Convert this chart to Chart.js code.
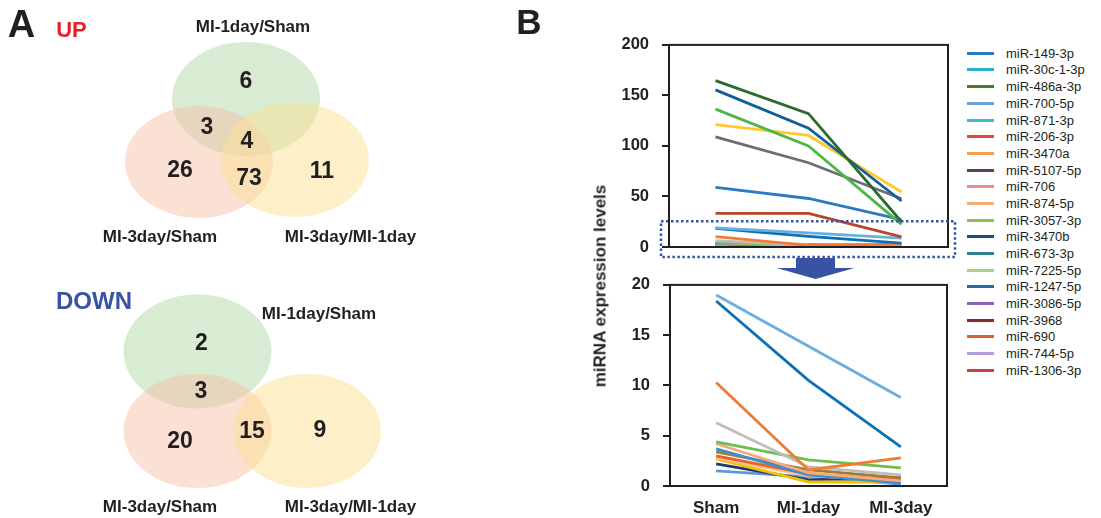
<!DOCTYPE html>
<html><head><meta charset="utf-8">
<script src="https://cdn.jsdelivr.net/npm/chart.js@4.4.0/dist/chart.umd.min.js"></script>
<style>
html,body{margin:0;padding:0;}
body{width:1101px;height:518px;background:#fff;position:relative;overflow:hidden;font-family:"Liberation Sans",Arial,Helvetica,sans-serif;color:#231f20;}
canvas{position:absolute;}
.t{position:absolute;white-space:nowrap;font-weight:bold;line-height:1;transform:translate(-50%,-50%);}
.lg{position:absolute;left:967px;height:16px;display:flex;align-items:center;font-size:13px;line-height:1;white-space:nowrap;transform:translateY(-50%);}
.lg span.sw{display:inline-block;width:27px;height:3px;margin-right:12px;}
</style></head><body>
<canvas id="venn" width="470" height="518" style="left:0;top:0"></canvas>
<canvas id="topChart" width="400" height="263" style="left:560px;top:22px"></canvas>
<canvas id="bottomChart" width="400" height="256" style="left:560px;top:262px"></canvas>
<div id="texts"></div>
<div id="legend"></div>
<script>
// ---------------- DATA ----------------
const categories = ['Sham', 'MI-1day', 'MI-3day'];
const topTicks = [0, 50, 100, 150, 200];
const bottomTicks = [0, 5, 10, 15, 20];

// high-abundance miRNAs (upper panel only)
const highSeries = [
  [164.7, 132.0, 25.0],
  [155.5, 117.6, 45.5],
  [136.4, 100.0, 22.4],
  [121.0, 110.4, 54.4],
  [109.0, 83.4, 47.8],
  [59.0, 48.0, 27.0],
  [33.3, 33.3, 10.0]
];
const highColors = ['#2d6a2d', '#0f5f9c', '#4db848', '#ffc830', '#6d6e71', '#2a7bc4', '#b5472b'];

// low-abundance miRNAs (both panels)
const lowSeries = [
  [19.0, 13.9, 8.8],
  [18.4, 10.5, 3.9],
  [10.3, 1.6, 2.8],
  [6.3, 1.9, 1.1],
  [4.4, 2.6, 1.8],
  [4.2, 1.3, 0.5],
  [3.7, 1.1, 0.3],
  [3.4, 1.6, 0.8],
  [3.0, 1.2, 0.6],
  [2.8, 1.0, 0.5],
  [2.7, 0.4, 0.4],
  [2.2, 0.6, 0.8],
  [1.5, 0.9, 0.2]
];
const lowColors = ['#6aaee0', '#0a70b8', '#f07c34', '#bdbdbd', '#6cbf4e', '#f5a882', '#3a8fd4', '#a47a2c', '#ec5f28', '#f8c090', '#f5c000', '#1f3a6e', '#5b9bd5'];

const legendNames = ['miR-149-3p', 'miR-30c-1-3p', 'miR-486a-3p', 'miR-700-5p', 'miR-871-3p', 'miR-206-3p', 'miR-3470a', 'miR-5107-5p', 'miR-706', 'miR-874-5p', 'miR-3057-3p', 'miR-3470b', 'miR-673-3p', 'miR-7225-5p', 'miR-1247-5p', 'miR-3086-5p', 'miR-3968', 'miR-690', 'miR-744-5p', 'miR-1306-3p'];
const legendColors = ['#2b7bbf', '#26b3d0', '#4a7a2a', '#6a9fd8', '#3bbfd0', '#e04a40', '#f5a050', '#5a3f6e', '#ec8a88', '#f8b07a', '#8dc150', '#1f4e79', '#2a7f8f', '#a9d18e', '#1f6fa8', '#8e62b8', '#8b2a2a', '#e0602a', '#b39ddb', '#c84040'];

// Venn counts
const vennUpCounts = [6, 3, 4, 26, 73, 11];
const vennDownCounts = [2, 3, 20, 15, 9];
const vennSetLabels = ['MI-1day/Sham', 'MI-3day/Sham', 'MI-3day/MI-1day'];

// ---------------- LAYOUT ----------------
const FONT = '"Liberation Sans", Arial, Helvetica, sans-serif';
const INK = '#231f20';
const vennShapes = [
  {cx: 246, cy: 99, rx: 74, ry: 57, color: 'rgba(177,217,169,0.5)'},
  {cx: 199, cy: 162, rx: 74, ry: 56, color: 'rgba(247,193,169,0.5)'},
  {cx: 295, cy: 160, rx: 74, ry: 57, color: 'rgba(251,225,147,0.5)'},
  {cx: 197.5, cy: 351.5, rx: 74, ry: 57, color: 'rgba(177,217,169,0.5)'},
  {cx: 197.5, cy: 431, rx: 74, ry: 57, color: 'rgba(247,193,169,0.5)'},
  {cx: 307, cy: 431, rx: 74, ry: 57, color: 'rgba(251,225,147,0.5)'}
];
const upPos = [[246, 81], [207, 127], [247, 141], [180, 170], [249, 178], [322, 171]];
const downPos = [[201.5, 343], [201, 391], [180, 441], [252, 431], [320, 430]];

const vennPoints = vennUpCounts.map((c, i) => ({x: upPos[i][0], y: upPos[i][1], v: c}))
  .concat(vennDownCounts.map((c, i) => ({x: downPos[i][0], y: downPos[i][1], v: c})));

const vennPlugin = {
  id: 'vennShapes',
  beforeDatasetsDraw(chart) {
    const {ctx, scales: {x, y}} = chart;
    vennShapes.forEach(e => {
      const cx = x.getPixelForValue(e.cx), cy = y.getPixelForValue(e.cy);
      const rx = Math.abs(x.getPixelForValue(e.cx + e.rx) - cx);
      const ry = Math.abs(y.getPixelForValue(e.cy + e.ry) - cy);
      ctx.save();
      ctx.beginPath();
      ctx.ellipse(cx, cy, rx, ry, 0, 0, Math.PI * 2);
      ctx.fillStyle = e.color;
      ctx.fill();
      ctx.restore();
    });
  },
  afterDatasetsDraw(chart) {
    const {ctx} = chart;
    const meta = chart.getDatasetMeta(0);
    const raw = chart.data.datasets[0].data;
    ctx.save();
    ctx.font = 'bold 23px ' + FONT;
    ctx.fillStyle = INK;
    ctx.textAlign = 'center';
    ctx.textBaseline = 'middle';
    meta.data.forEach((pt, i) => ctx.fillText(String(raw[i].v), pt.x, pt.y + 1));
    ctx.restore();
  }
};

new Chart(document.getElementById('venn'), {
  type: 'scatter',
  data: {datasets: [{data: vennPoints, pointRadius: 0, pointHoverRadius: 0}]},
  options: {
    responsive: false, animation: false, devicePixelRatio: 1,
    layout: {padding: 0},
    plugins: {legend: {display: false}, tooltip: {enabled: false}},
    scales: {
      x: {type: 'linear', min: 0, max: 470, display: false},
      y: {type: 'linear', min: 0, max: 518, reverse: true, display: false}
    }
  },
  plugins: [vennPlugin]
});

// ---------------- LINE CHARTS ----------------
const framePlugin = {
  id: 'frame',
  afterDatasetsDraw(chart) {
    const {ctx, chartArea: a} = chart;
    ctx.save();
    ctx.strokeStyle = INK;
    ctx.lineWidth = 2;
    ctx.strokeRect(a.left, a.top, a.right - a.left, a.bottom - a.top);
    ctx.restore();
  }
};
const zoomBoxPlugin = {
  id: 'zoomBox',
  afterDraw(chart) {
    const {ctx, chartArea: a, scales: {y}} = chart;
    const top = y.getPixelForValue(25.5), bot = y.getPixelForValue(-10);
    ctx.save();
    ctx.strokeStyle = '#3953a4';
    ctx.lineWidth = 2.5;
    ctx.setLineDash([2.5, 2.5]);
    ctx.strokeRect(a.left - 8, top, (a.right + 7) - (a.left - 8), bot - top);
    ctx.setLineDash([]);
    const cx = (a.left + a.right) / 2 + 7;
    ctx.fillStyle = '#3953a4';
    ctx.beginPath();
    ctx.moveTo(cx - 19.5, bot + 1);
    ctx.lineTo(cx + 19.5, bot + 1);
    ctx.lineTo(cx + 19.5, bot + 11);
    ctx.lineTo(cx + 39, bot + 11);
    ctx.lineTo(cx, bot + 22);
    ctx.lineTo(cx - 39, bot + 11);
    ctx.lineTo(cx - 19.5, bot + 11);
    ctx.closePath();
    ctx.fill();
    ctx.restore();
  }
};

function makeDatasets(seriesList, colors) {
  return seriesList.map((d, i) => ({
    data: d, borderColor: colors[i], backgroundColor: colors[i],
    borderWidth: 2.8, pointRadius: 0, tension: 0, fill: false
  }));
}
function yAxis(min, max, ticks, width) {
  return {
    min: min, max: max,
    afterBuildTicks: s => { s.ticks = ticks.map(v => ({value: v})); },
    afterFit: s => { s.width = width; },
    grid: {drawOnChartArea: false, drawTicks: true, tickLength: 7, color: INK, lineWidth: 2},
    border: {display: true, color: INK, width: 2},
    ticks: {padding: 13, color: INK, font: {family: FONT, size: 16.5, weight: 'bold'}}
  };
}

new Chart(document.getElementById('topChart'), {
  type: 'line',
  data: {labels: categories, datasets: makeDatasets(highSeries, highColors).concat(makeDatasets(lowSeries, lowColors))},
  options: {
    responsive: false, animation: false, devicePixelRatio: 1,
    layout: {padding: {top: 6, right: 12, bottom: 38, left: 0}},
    plugins: {legend: {display: false}, tooltip: {enabled: false}},
    scales: {
      x: {display: false, offset: true},
      y: yAxis(0, 200, topTicks, 109)
    }
  },
  plugins: [framePlugin, zoomBoxPlugin]
});

new Chart(document.getElementById('bottomChart'), {
  type: 'line',
  data: {labels: categories, datasets: makeDatasets(lowSeries, lowColors)},
  options: {
    responsive: false, animation: false, devicePixelRatio: 1,
    layout: {padding: {top: 6, right: 13, bottom: 0, left: 0}},
    plugins: {legend: {display: false}, tooltip: {enabled: false}},
    scales: {
      x: {offset: true,
          afterFit: s => { s.height = 32; },
          grid: {display: false, drawTicks: false},
          border: {display: false},
          ticks: {padding: 12, color: INK, font: {family: FONT, size: 17, weight: 'bold'}}},
      y: yAxis(0, 20, bottomTicks, 110)
    }
  },
  plugins: [framePlugin]
});

// ---------------- TEXTS ----------------
const texts = [
  {s: 'A', x: 21.5, y: 23.5, size: 38, color: INK},
  {s: 'UP', x: 71.5, y: 29.5, size: 22, color: '#e8202a'},
  {s: vennSetLabels[0], x: 253, y: 26, size: 17, color: INK},
  {s: vennSetLabels[1], x: 160, y: 236, size: 17, color: INK},
  {s: vennSetLabels[2], x: 350.5, y: 236, size: 17, color: INK},
  {s: 'DOWN', x: 94, y: 300.5, size: 24, color: '#3953a4'},
  {s: vennSetLabels[0], x: 319, y: 313, size: 17, color: INK},
  {s: vennSetLabels[1], x: 160, y: 506, size: 17, color: INK},
  {s: vennSetLabels[2], x: 350.5, y: 506, size: 17, color: INK},
  {s: 'B', x: 529, y: 20.5, size: 35, color: INK}
];
const tc = document.getElementById('texts');
texts.forEach(t => {
  const d = document.createElement('div');
  d.className = 't';
  d.textContent = t.s;
  d.style.left = t.x + 'px'; d.style.top = t.y + 'px';
  d.style.fontSize = t.size + 'px'; d.style.color = t.color;
  tc.appendChild(d);
});
const yt = document.createElement('div');
yt.className = 't';
yt.textContent = 'miRNA expression levels';
yt.style.left = '600px'; yt.style.top = '286px'; yt.style.fontSize = '17px'; yt.style.color = INK;
yt.style.transform = 'translate(-50%,-50%) rotate(-90deg)';
tc.appendChild(yt);

// legend
const lg = document.getElementById('legend');
legendNames.forEach((n, i) => {
  const row = document.createElement('div');
  row.className = 'lg';
  row.style.top = (53.3 + i * 16.68) + 'px';
  const sw = document.createElement('span');
  sw.className = 'sw';
  sw.style.background = legendColors[i];
  const tx = document.createElement('span');
  tx.textContent = n;
  row.appendChild(sw); row.appendChild(tx);
  lg.appendChild(row);
});
</script>
</body></html>
